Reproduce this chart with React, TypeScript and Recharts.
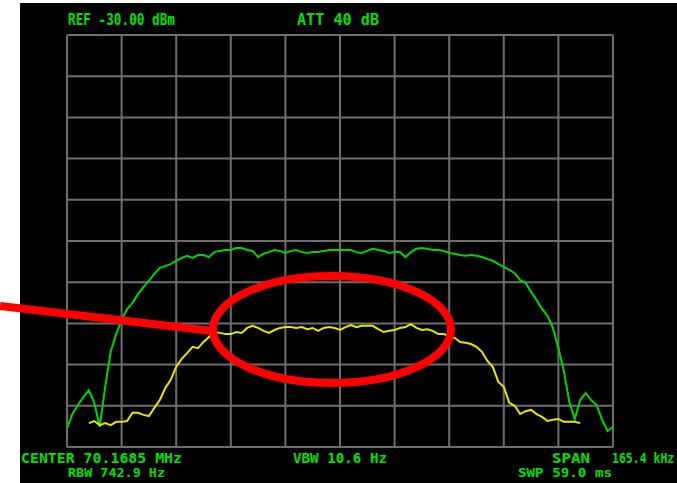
import React from 'react';
import { LineChart, Line, XAxis, YAxis, CartesianGrid } from 'recharts';

// trace readings in dBm, one point every 1/10 of a horizontal division
const GREEN_TRACE = [
	-125.4, -122.0, -119.8, -117.9, -116.2, -119.3, -125.1, -115.4, -106.9, -102.6,
	-99.2, -96.5, -95.0, -92.9, -91.2, -89.7, -88.0, -86.5, -86.1, -85.6,
	-84.8, -84.1, -83.6, -84.1, -83.4, -83.4, -83.9, -82.7, -82.4, -82.2,
	-82.2, -81.7, -81.7, -82.2, -82.4, -83.9, -83.1, -82.7, -82.2, -82.4,
	-82.9, -82.4, -82.2, -82.7, -82.9, -82.7, -82.7, -82.4, -82.2, -82.2,
	-82.2, -82.2, -82.2, -82.7, -82.9, -82.4, -81.9, -82.2, -82.4, -82.9,
	-82.7, -82.7, -83.9, -82.7, -81.9, -81.7, -81.9, -82.2, -82.2, -82.4,
	-82.9, -83.1, -83.4, -83.6, -83.4, -83.6, -83.9, -84.4, -84.8, -85.6,
	-86.3, -87.0, -87.8, -89.5, -90.2, -92.4, -94.3, -96.5, -98.2, -101.1,
	-106.0, -111.5, -119.1, -123.2, -118.6, -116.9, -118.6, -119.8, -123.4, -126.1,
	-125.1,
];

const YELLOW_TRACE = [
	null, null, null, null, -124.2, -123.7, -124.7, -124.2, -124.7, -123.9,
	-123.9, -123.7, -121.7, -121.7, -122.2, -122.5, -120.5, -118.6, -115.7, -113.7,
	-110.5, -108.6, -107.2, -105.7, -106.0, -104.5, -103.3, -102.1, -102.3, -102.6,
	-102.6, -102.1, -102.3, -101.1, -100.6, -101.1, -101.8, -102.3, -101.6, -101.1,
	-100.9, -100.9, -101.1, -100.9, -101.4, -101.1, -101.8, -101.1, -100.9, -101.1,
	-101.6, -100.9, -100.4, -100.9, -100.6, -100.6, -100.6, -101.4, -102.1, -101.8,
	-101.6, -101.1, -100.9, -100.2, -101.1, -101.6, -101.4, -101.8, -102.6, -102.6,
	-103.1, -103.5, -104.5, -104.7, -105.0, -105.7, -106.9, -109.1, -110.6, -114.2,
	-115.4, -119.3, -120.0, -122.0, -121.3, -121.0, -122.0, -122.7, -123.7, -123.4,
	-123.2, -123.9, -123.9, -123.9, -124.2, null, null, null, null, null,
	null,
];

const X_TICKS = [0, 10, 20, 30, 40, 50, 60, 70, 80, 90, 100];
const Y_TICKS = [-130, -120, -110, -100, -90, -80, -70, -60, -50, -40, -30];

const TOP_LABELS = [
	{ text: 'REF -30.00 dBm', x: 68, w: 107 },
	{ text: 'ATT  40 dB', x: 297, w: 82 },
];
const BOTTOM_LABELS = [
	{ text: 'CENTER 70.1685 MHz', x: 21, y: 463, w: 161 },
	{ text: 'VBW 10.6 Hz', x: 293, y: 463, w: 94 },
	{ text: 'SPAN', x: 552, y: 463, w: 38 },
	{ text: 'RBW 742.9 Hz', x: 68, y: 477, w: 97 },
	{ text: 'SWP 59.0 ms', x: 518, y: 477, w: 94 },
];
const SPAN_VALUE = '165.4 kHz';

const W = 677;
const H = 483;
const LABEL_GREEN = '#00e000';
const labelFont = { fontFamily: '"DejaVu Sans Mono", monospace', fontWeight: 'bold' as const };

const data = GREEN_TRACE.map((g, i) => ({ x: i, green: g, yellow: YELLOW_TRACE[i] }));

export default function App() {
	return (
		<div style={{ position: 'absolute', left: 0, top: 0, width: W, height: H, background: '#fff', overflow: 'hidden' }}>
			{/* analyzer screen */}
			<div style={{ position: 'absolute', left: 20, top: 3, width: W - 20, height: H - 3, background: '#000' }}>
				<svg width={W - 20} height={H - 3}>
					<g transform="translate(-20,-3)" fill={LABEL_GREEN} style={labelFont}>
						{TOP_LABELS.map((l) => (
							<text key={l.text} x={l.x} y={25} fontSize={16} textLength={l.w} lengthAdjust="spacingAndGlyphs">
								{l.text}
							</text>
						))}
						{BOTTOM_LABELS.map((l) => (
							<text key={l.text} x={l.x} y={l.y} fontSize={l.y > 470 ? 12.5 : 14} textLength={l.w} lengthAdjust="spacingAndGlyphs">
								{l.text}
							</text>
						))}
						<text transform="translate(612,463) scale(1,1.2)" fontSize={11.5}>
							{SPAN_VALUE}
						</text>
					</g>
				</svg>
			</div>
			<div style={{ position: 'absolute', left: 0, top: 0 }}>
				<LineChart width={W} height={H} data={data} margin={{ top: 35, right: 64, bottom: 36, left: 67 }}>
					<CartesianGrid
						stroke="#6e6e6e"
						strokeWidth={2}
						horizontalValues={Y_TICKS}
						verticalValues={X_TICKS}
					/>
					<XAxis dataKey="x" type="number" domain={[0, 100]} ticks={X_TICKS} hide />
					<YAxis type="number" domain={[-130, -30]} ticks={Y_TICKS} hide />
					<Line dataKey="green" type="linear" stroke="#00d400" strokeWidth={2} dot={false} isAnimationActive={false} />
					<Line dataKey="yellow" type="linear" stroke="#e6e600" strokeWidth={2} dot={false} isAnimationActive={false} />
				</LineChart>
			</div>
			{/* red callout */}
			<svg width={W} height={H} style={{ position: 'absolute', left: 0, top: 0 }}>
				<line x1={0} y1={306} x2={212} y2={331} stroke="#ff0000" strokeWidth={8} />
				<ellipse cx={332} cy={329.5} rx={119} ry={53.5} fill="none" stroke="#ff0000" strokeWidth={8} />
			</svg>
		</div>
	);
}
